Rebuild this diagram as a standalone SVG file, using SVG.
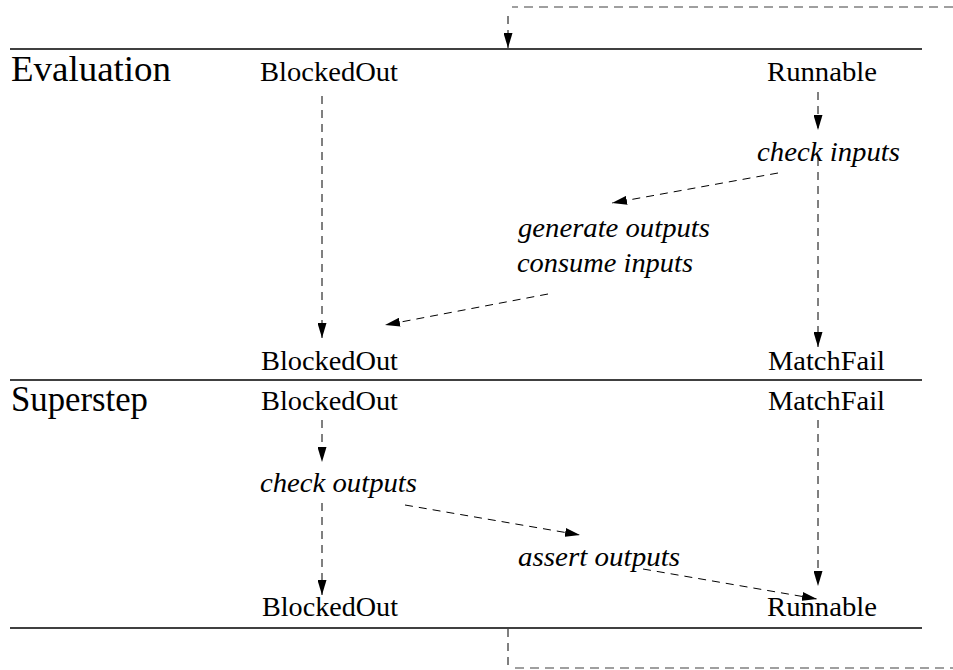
<svg xmlns="http://www.w3.org/2000/svg" width="953" height="670" viewBox="0 0 953 670">
<style>
.lbl{font-family:'Liberation Serif','DejaVu Serif',serif;font-size:28px;fill:#000}
.it{font-style:italic}
.title{font-family:'Liberation Serif','DejaVu Serif',serif;font-size:35px;fill:#000}
.rule{stroke:#000;stroke-width:1.3;fill:none}
.dash{stroke:#000;stroke-width:1;stroke-dasharray:8 6;fill:none}
.gray{stroke:#808080;stroke-width:1.3;stroke-dasharray:9 6;fill:none}
</style>
<defs>
<marker id="ah" markerUnits="userSpaceOnUse" markerWidth="15" markerHeight="9" refX="15" refY="4.5" orient="auto">
<path d="M0,0 L15,4.5 L0,9 z" fill="#000"/>
</marker>
</defs>
<rect width="953" height="670" fill="#fff"/>
<g id="rules">
<line class="rule" x1="10" y1="49" x2="922" y2="49"/>
<line class="rule" x1="10" y1="380" x2="922" y2="380"/>
<line class="rule" x1="10" y1="628" x2="922" y2="628"/>
</g>
<g id="section-evaluation"><text class="title" x="11" y="81" textLength="160" lengthAdjust="spacingAndGlyphs">Evaluation</text></g>
<g id="section-superstep"><text class="title" x="11" y="411" textLength="137" lengthAdjust="spacingAndGlyphs">Superstep</text></g>
<g id="eval-blockedout-top"><text class="lbl" x="260" y="81" textLength="138" lengthAdjust="spacingAndGlyphs">BlockedOut</text></g>
<g id="eval-runnable-top"><text class="lbl" x="767" y="81" textLength="110" lengthAdjust="spacingAndGlyphs">Runnable</text></g>
<g id="check-inputs"><text class="lbl it" x="757" y="161" textLength="143" lengthAdjust="spacingAndGlyphs">check inputs</text></g>
<g id="generate-outputs"><text class="lbl it" x="518" y="237" textLength="192" lengthAdjust="spacingAndGlyphs">generate outputs</text></g>
<g id="consume-inputs"><text class="lbl it" x="517" y="272" textLength="176" lengthAdjust="spacingAndGlyphs">consume inputs</text></g>
<g id="eval-blockedout-bottom"><text class="lbl" x="261" y="370" textLength="137" lengthAdjust="spacingAndGlyphs">BlockedOut</text></g>
<g id="eval-matchfail"><text class="lbl" x="768" y="370" textLength="117" lengthAdjust="spacingAndGlyphs">MatchFail</text></g>
<g id="super-blockedout-top"><text class="lbl" x="261" y="410" textLength="137" lengthAdjust="spacingAndGlyphs">BlockedOut</text></g>
<g id="super-matchfail"><text class="lbl" x="768" y="410" textLength="117" lengthAdjust="spacingAndGlyphs">MatchFail</text></g>
<g id="check-outputs"><text class="lbl it" x="260" y="492" textLength="157" lengthAdjust="spacingAndGlyphs">check outputs</text></g>
<g id="assert-outputs"><text class="lbl it" x="518" y="566" textLength="162" lengthAdjust="spacingAndGlyphs">assert outputs</text></g>
<g id="super-blockedout-bottom"><text class="lbl" x="262" y="616" textLength="136" lengthAdjust="spacingAndGlyphs">BlockedOut</text></g>
<g id="super-runnable"><text class="lbl" x="767" y="616" textLength="110" lengthAdjust="spacingAndGlyphs">Runnable</text></g>
<g id="connectors">
<polyline class="gray" points="953,7 512,7"/>
<line class="dash" x1="508" y1="16" x2="508" y2="48" marker-end="url(#ah)"/>
<line class="dash" x1="322" y1="96" x2="322" y2="338" marker-end="url(#ah)"/>
<line class="dash" x1="818" y1="92" x2="818" y2="130" marker-end="url(#ah)"/>
<line class="dash" x1="818" y1="158" x2="818" y2="347" marker-end="url(#ah)"/>
<line class="dash" x1="778" y1="173" x2="612" y2="203" marker-end="url(#ah)"/>
<line class="dash" x1="548" y1="294" x2="385" y2="325" marker-end="url(#ah)"/>
<line class="dash" x1="322" y1="420" x2="322" y2="462" marker-end="url(#ah)"/>
<line class="dash" x1="322" y1="503" x2="322" y2="595" marker-end="url(#ah)"/>
<line class="dash" x1="818" y1="420" x2="818" y2="586" marker-end="url(#ah)"/>
<line class="dash" x1="405" y1="505" x2="580" y2="535" marker-end="url(#ah)"/>
<line class="dash" x1="643" y1="569" x2="817" y2="599" marker-end="url(#ah)"/>
<line class="dash" x1="508" y1="629" x2="508" y2="668"/>
<polyline class="gray" points="515,668 953,668"/>
</g>
</svg>
